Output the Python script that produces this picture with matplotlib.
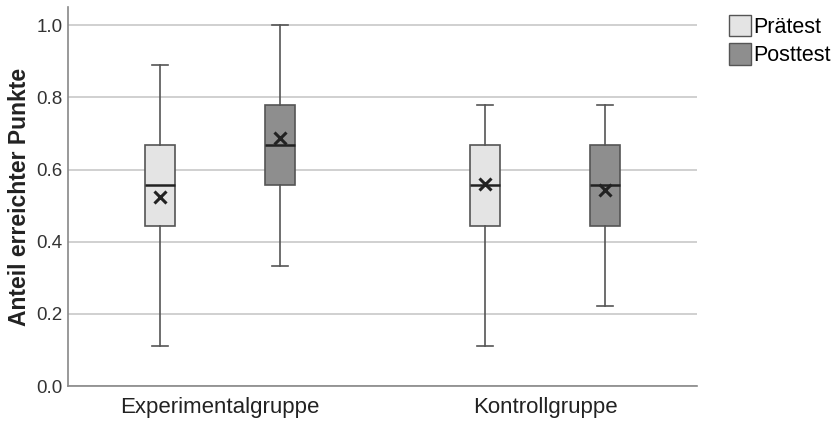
import matplotlib.pyplot as plt
from matplotlib.patches import Patch

plt.rcParams["font.family"] = ["Liberation Sans", "DejaVu Sans"]

groups = ["Experimentalgruppe", "Kontrollgruppe"]
series = ["Prätest", "Posttest"]
whisker_low = [[0.111, 0.333], [0.111, 0.222]]
q1 = [[0.444, 0.556], [0.444, 0.444]]
median = [[0.556, 0.667], [0.556, 0.556]]
q3 = [[0.667, 0.778], [0.667, 0.667]]
whisker_high = [[0.889, 1.0], [0.778, 0.778]]
means = [[0.525, 0.688], [0.560, 0.543]]

fill_colors = ["#e4e4e4", "#8e8e8e"]
edge_color = "#555555"
offset = 0.185

fig = plt.figure(figsize=(8.36, 4.21), dpi=100)
ax = fig.add_axes([0.0813, 0.0831, 0.7525, 0.9])

for gi, group in enumerate(groups):
    for si in range(len(series)):
        stats = [{
            "whislo": whisker_low[gi][si],
            "q1": q1[gi][si],
            "med": median[gi][si],
            "q3": q3[gi][si],
            "whishi": whisker_high[gi][si],
            "mean": means[gi][si],
            "fliers": [],
        }]
        pos = gi + 1 + (si - 0.5) * 2 * offset
        ax.bxp(
            stats,
            positions=[pos],
            widths=0.092,
            patch_artist=True,
            showmeans=True,
            boxprops=dict(facecolor=fill_colors[si], edgecolor=edge_color, linewidth=1.2),
            medianprops=dict(color="#222222", linewidth=1.8),
            whiskerprops=dict(color=edge_color, linewidth=1.2),
            capprops=dict(color=edge_color, linewidth=1.2),
            capwidths=0.05,
            meanprops=dict(marker="x", markeredgecolor="#222222", markersize=8,
                           markeredgewidth=2.2),
            zorder=3,
        )

ax.set_xlim(0.532, 2.468)
ax.set_ylim(0, 1.05)
ax.set_xticks([1, 2])
ax.set_xticklabels(groups, fontsize=16, color="#222222")
ax.set_yticks([0.0, 0.2, 0.4, 0.6, 0.8, 1.0])
ax.set_yticklabels(["0.0", "0.2", "0.4", "0.6", "0.8", "1.0"], fontsize=13.5, color="#333333")
ax.tick_params(axis="y", length=0, pad=4)
ax.tick_params(axis="x", length=0, pad=8)
ax.set_ylabel("Anteil erreichter Punkte", fontsize=16.5, fontweight="bold",
              color="#222222", labelpad=4)

ax.yaxis.grid(True, color="#c8c8c8", linewidth=1.2, zorder=0)
ax.set_axisbelow(True)
for side in ["top", "right"]:
    ax.spines[side].set_visible(False)
for side in ["left", "bottom"]:
    ax.spines[side].set_color("#888888")
    ax.spines[side].set_linewidth(1.2)

handles = [Patch(facecolor=fill_colors[i], edgecolor=edge_color, label=series[i]) for i in range(2)]
fig.legend(handles=handles, loc="upper left", bbox_to_anchor=(0.862, 0.985),
           frameon=False, fontsize=15.5, handlelength=1.0, handleheight=1.15,
           handletextpad=0.12, borderaxespad=0, labelspacing=0.25)

fig.savefig("out.png", dpi=100)
